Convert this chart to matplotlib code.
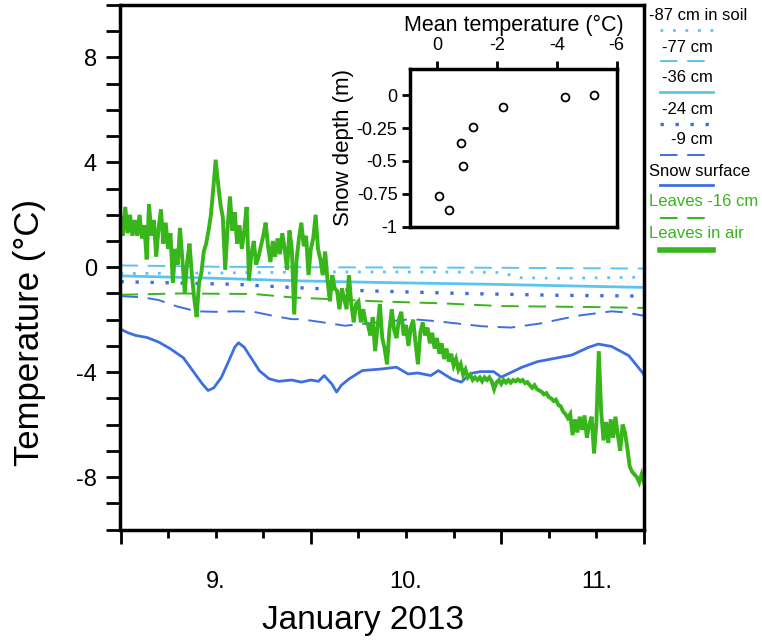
import matplotlib
matplotlib.use('Agg')
import matplotlib.pyplot as plt
import numpy as np
from matplotlib.ticker import FixedLocator, FuncFormatter
from matplotlib.lines import Line2D

plt.rcParams['font.family'] = ['Liberation Sans', 'DejaVu Sans']
plt.rcParams['axes.unicode_minus'] = False

# ---------------- data ----------------
# Leaves in air: regular sampling every 0.0125 day from Jan 8, 12:00
air_start = 8.5
air_step = 0.0125
air_temp = [
    1.9, 1.2, 2.3, 1.3, 2.0, 1.2, 1.8, 1.2, 2.0, 1.1, 1.6, 0.3, 2.4,
    1.2, 1.8, 0.4, 1.5, 2.2, 0.9, 1.7, 0.7, 1.3, -0.6, 0.7, 0.1, 1.5,
    0.3, -1.0, 0.2, 0.9, -0.3, -1.2, -1.9, -0.6, -0.2, 0.6, 0.9, 1.4,
    2.0, 3.0, 4.1, 3.2, 2.4, 1.9, -0.1, 1.5, 2.7, 1.4, 2.1, 0.9, 1.6,
    0.7, 1.4, 2.3, -0.5, 0.5, 1.0, 0.1, 0.4, 0.8, 1.2, 1.7, 0.8, 0.2,
    1.0, 0.4, 1.1, 0.5, 1.3, 0.7, -0.1, 1.4, 0.7, -1.8, 0.3, 1.1, 1.7,
    0.8, 1.2, -0.3, 0.7, 1.1, 2.0, 0.7, 0.3, -0.3, 0.6, -0.5, -1.3,
    -0.3, -0.8, -0.9, -1.6, -0.8, -1.2, -1.6, -0.3, -1.4, -2.1, -1.4,
    -1.3, -2.1, -1.6, -2.1, -2.2, -2.6, -1.9, -3.2, -2.3, -1.4, -2.7,
    -3.1, -3.7, -2.4, -1.6, -2.4, -2.7, -2.0, -1.7, -2.6, -2.2, -3.0,
    -2.3, -2.0, -2.9, -3.7, -2.5, -2.1, -2.6, -2.3, -2.9, -2.5, -3.1,
    -2.7, -3.3, -2.9, -3.5, -3.1, -3.6, -3.3, -3.75, -3.5, -3.9, -3.7,
    -4.1, -3.9, -4.2, -4.1, -4.3, -4.2, -4.3, -4.2, -4.35, -4.2, -4.3,
    -4.2, -4.35, -4.65, -4.4, -4.3, -4.45, -4.3, -4.4, -4.3, -4.4,
    -4.3, -4.35, -4.28, -4.35, -4.3, -4.42, -4.38, -4.5, -4.6, -4.5,
    -4.65, -4.7, -4.75, -4.85, -4.8, -4.95, -5.0, -5.1, -5.05, -5.25,
    -5.3, -5.5, -5.6, -5.75, -5.6, -6.4, -5.8, -6.3, -5.7, -6.2, -5.65,
    -6.5, -6.0, -5.7, -7.1, -5.9, -3.2, -5.5, -6.6, -5.9, -6.7, -5.8,
    -6.5, -5.7, -6.4, -7.0, -6.0, -6.3, -6.9, -7.6, -7.8, -7.9, -8.0,
    -8.2, -7.9, -8.2,
]

snow_time = [8.50, 8.54, 8.58, 8.64, 8.70, 8.76, 8.83, 8.88, 8.93, 8.96, 8.99,
             9.03, 9.07, 9.10, 9.12, 9.15, 9.19, 9.23, 9.28, 9.33, 9.40, 9.45,
             9.50, 9.54, 9.57, 9.61, 9.635, 9.66, 9.70, 9.77, 9.87, 9.95, 10.01,
             10.06, 10.13, 10.17, 10.24, 10.29, 10.34, 10.39, 10.46, 10.50,
             10.61, 10.69, 10.87, 10.96, 11.01, 11.08, 11.17, 11.24, 11.25]
snow_temp = [-2.36, -2.5, -2.6, -2.68, -2.85, -3.1, -3.45, -3.95, -4.45, -4.7, -4.6,
             -4.2, -3.55, -3.05, -2.88, -3.05, -3.5, -3.95, -4.25, -4.35, -4.3, -4.38,
             -4.3, -4.35, -4.13, -4.45, -4.76, -4.5, -4.26, -3.94, -3.88, -3.81, -4.07,
             -4.03, -4.13, -3.94, -4.26, -4.38, -4.05, -3.98, -3.98, -4.19,
             -3.81, -3.6, -3.35, -3.05, -2.93, -3.02, -3.37, -4.0, -4.1]

d9_time = [8.50, 8.62, 8.70, 8.80, 8.90, 9.00, 9.10, 9.20, 9.30, 9.40, 9.45, 9.68,
           9.85, 10.03, 10.15, 10.40, 10.55, 10.70, 10.90, 11.08, 11.15, 11.25]
d9_temp = [-1.1, -1.15, -1.25, -1.5, -1.68, -1.7, -1.68, -1.7, -1.85, -1.98, -1.98, -2.23,
           -2.1, -1.98, -2.05, -2.25, -2.3, -2.15, -1.85, -1.68, -1.72, -1.85]

leaf16_time = [8.5, 8.8, 9.2, 9.4, 9.85, 10.2, 10.5, 11.0, 11.25]
leaf16_temp = [-1.05, -1.0, -1.02, -1.15, -1.3, -1.38, -1.48, -1.52, -1.55]

d24_time = [8.5, 8.8, 9.1, 9.4, 9.8, 10.3, 10.8, 11.25]
d24_temp = [-0.55, -0.6, -0.65, -0.77, -0.9, -1.0, -1.07, -1.1]

d36_time = [8.5, 8.9, 9.45, 9.85, 10.45, 11.25]
d36_temp = [-0.33, -0.4, -0.52, -0.58, -0.65, -0.77]

d87_time = [8.5, 9.0, 9.5, 10.2, 10.5, 10.6, 10.8, 11.25]
d87_temp = [-0.24, -0.22, -0.18, -0.18, -0.2, -0.4, -0.42, -0.38]

d77_time = [8.5, 9.0, 9.5, 10.5, 11.25]
d77_temp = [0.07, 0.02, 0.0, -0.02, -0.05]

# inset: mean temperature vs snow depth
inset_temp = [-0.06, -0.39, -0.81, -0.86, -1.19, -2.2, -4.28, -5.24]
inset_depth = [-0.77, -0.87, -0.36, -0.54, -0.24, -0.09, -0.01, 0.0]

y_major = [-8, -4, 0, 4, 8]
day_labels = [9, 10, 11]

legend_labels = ['-87 cm in soil', '-77 cm', '-36 cm', '-24 cm', '-9 cm',
                 'Snow surface', 'Leaves -16 cm', 'Leaves in air']

# ---------------- styles ----------------
LB = '#5cc4f0'
BL = '#3e6fe0'
GR = '#37b51a'

styles = [
    dict(color=LB, lw=2.0, ls=(0, (1, 3.5))),
    dict(color=LB, lw=1.4, ls=(0, (9, 5))),
    dict(color=LB, lw=2.0, ls='-'),
    dict(color=BL, lw=2.4, ls=(0, (1, 3.5))),
    dict(color=BL, lw=1.4, ls=(0, (9, 5))),
    dict(color=BL, lw=2.0, ls='-'),
    dict(color=GR, lw=1.4, ls=(0, (9, 5))),
    dict(color=GR, lw=2.8, ls='-'),
]

fig = plt.figure(figsize=(7.62, 6.4), dpi=100)
ax = fig.add_axes([120.5 / 762, 1 - 529.5 / 640, 523.5 / 762, 524.5 / 640])

series = [(d87_time, d87_temp), (d77_time, d77_temp), (d36_time, d36_temp),
          (d24_time, d24_temp), (d9_time, d9_temp), (snow_time, snow_temp),
          (leaf16_time, leaf16_temp)]
for (t, v), st in zip(series, styles[:7]):
    ax.plot(t, v, color=st['color'], lw=st['lw'], linestyle=st['ls'])

air_time = air_start + air_step * np.arange(len(air_temp))
ax.plot(air_time, air_temp, color=GR, lw=styles[7]['lw'], solid_joinstyle='miter')

ax.set_xlim(8.5, 11.25)
ax.set_ylim(-10, 10)

for s in ax.spines.values():
    s.set_linewidth(2.5)

ax.yaxis.set_major_locator(FixedLocator(y_major))
ax.yaxis.set_minor_locator(FixedLocator(list(range(-10, 11))))
ax.yaxis.set_major_formatter(FuncFormatter(lambda v, p: '%d' % v))
ax.tick_params(axis='y', which='both', direction='out', length=10, width=2,
               labelsize=17, pad=7, right=False)

ax.xaxis.set_major_locator(FixedLocator([8.5, 9.5, 10.5, 11.25]))
ax.xaxis.set_major_formatter(FuncFormatter(lambda v, p: ''))
minor_x = [8.75, 9.0, 9.25, 9.75, 10.0, 10.25, 10.75, 11.0]
ax.xaxis.set_minor_locator(FixedLocator(minor_x))
ax.xaxis.set_minor_formatter(FuncFormatter(
    lambda v, p: ('%d.' % round(v)) if round(v) in day_labels and abs(v - round(v)) < 1e-6 else ''))
ax.tick_params(axis='x', which='major', direction='out', length=10, width=2, top=False)
ax.tick_params(axis='x', which='minor', direction='out', length=6, width=2, top=False,
               labelsize=17, pad=24)

fig.text(30 / 762, 1 - 333 / 640, 'Temperature (°C)', rotation=90,
         ha='center', va='center', fontsize=25)
fig.text(363 / 762, 1 - 620 / 640, 'January 2013', ha='center', va='center', fontsize=24)

# ---------------- inset ----------------
axi = fig.add_axes([410 / 762, 1 - 226.7 / 640, 206.7 / 762, 157.7 / 640])
axi.scatter(inset_temp, inset_depth, s=32, facecolors='white', edgecolors='black',
            linewidths=1.3, zorder=3)
axi.set_xlim(0.9, -6)
axi.set_ylim(-1, 0.2)
for s in axi.spines.values():
    s.set_linewidth(2.5)
axi.xaxis.tick_top()
axi.xaxis.set_label_position('top')
axi.set_xticks([0, -2, -4, -6])
axi.set_xticklabels(['0', '-2', '-4', '-6'])
axi.set_yticks([0, -0.25, -0.5, -0.75, -1])
axi.set_yticklabels(['0', '-0.25', '-0.5', '-0.75', '-1'])
axi.tick_params(axis='both', direction='out', length=6, width=2, labelsize=13, pad=3)
axi.tick_params(axis='x', bottom=False, top=True, pad=5)
axi.tick_params(axis='y', right=False)
axi.set_xlabel('Mean temperature (°C)', fontsize=15.5, labelpad=4)
axi.set_ylabel('Snow depth (m)', fontsize=16, labelpad=2)

# ---------------- legend (outside, right) ----------------
text_y = [16, 48, 77, 110, 140, 171, 202, 233]
line_y = [30, 61, 92, 124, 155, 185, 218, 250]
text_colors = ['black'] * 6 + [GR, GR]
for i, lab in enumerate(legend_labels):
    long_lab = len(lab) > 7
    if long_lab:
        fig.text(649 / 762, 1 - text_y[i] / 640, lab, ha='left', va='center',
                 fontsize=12, color=text_colors[i])
    else:
        fig.text(713 / 762, 1 - text_y[i] / 640, lab, ha='right', va='center',
                 fontsize=12, color=text_colors[i])
    st = styles[i]
    lw = st['lw'] if i != 7 else 4.0
    fig.add_artist(Line2D([660 / 762, 713 / 762], [1 - line_y[i] / 640] * 2,
                          transform=fig.transFigure, color=st['color'], lw=lw,
                          linestyle=st['ls']))

fig.savefig('out.png', dpi=100)
